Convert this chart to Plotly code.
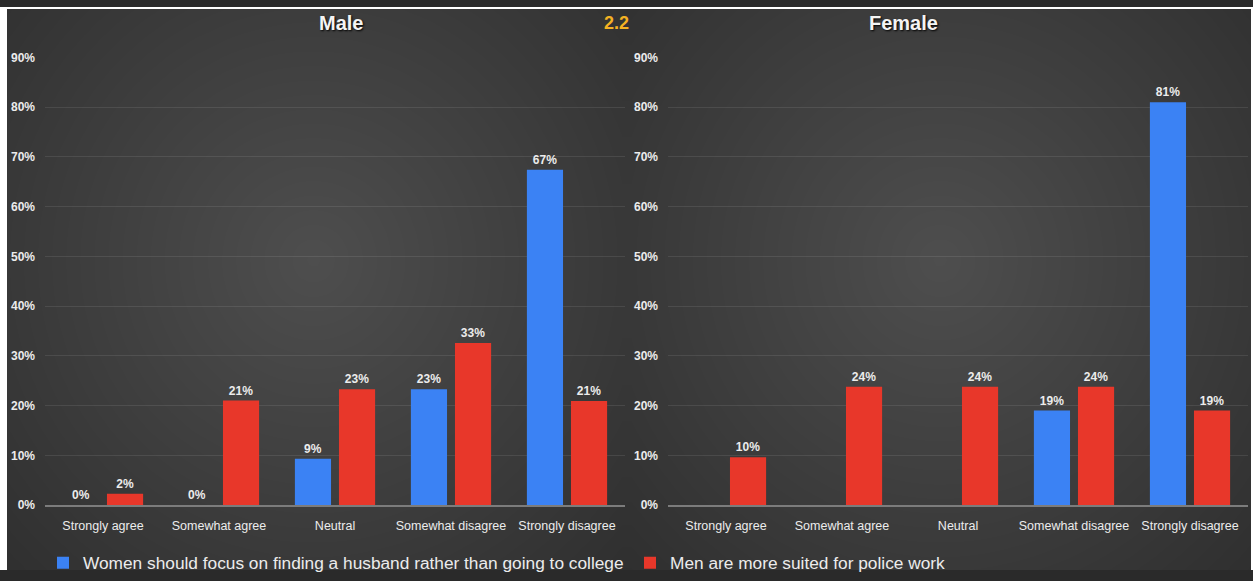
import numpy as np
import plotly.graph_objects as go

W, H = 1253, 581

categories = ["Strongly agree", "Somewhat agree", "Neutral", "Somewhat disagree", "Strongly disagree"]
series_names = ["Women should focus on finding a husband rather than going to college",
                "Men are more suited for police work"]
male_women_college = [0, 0, 9.3, 23.3, 67.4]
male_men_police = [2.3, 21.0, 23.3, 32.6, 20.9]
female_women_college = [None, None, None, 19.0, 81.0]
female_men_police = [9.6, 23.8, 23.8, 23.8, 19.0]
y_tickvals = [0, 10, 20, 30, 40, 50, 60, 70, 80, 90]
y_ticktext = ["0%", "10%", "20%", "30%", "40%", "50%", "60%", "70%", "80%", "90%"]
panel_titles = ["Male", "Female"]
corner_label = "2.2"

BLUE = "#3b82f4"
RED = "#e8372a"
FONT = "Liberation Sans, Arial, sans-serif"
TXT = "#ececec"
EDGE = "#2a2a2a"

def px_x(p):
    return p / W

def px_y(p):
    return 1 - p / H

fig = go.Figure()

# background: two radial gradients (styling only)
nx, ny = 160, 70
gx = np.linspace(-0.01, 1.01, nx)
gy = np.linspace(-0.02, 1.02, ny)
X, Y = np.meshgrid(gx, gy)
zl = np.sqrt(((X - 0.25) / 0.33) ** 2 + ((Y - 0.55) / 0.75) ** 2)
zr = np.sqrt(((X - 0.75) / 0.33) ** 2 + ((Y - 0.55) / 0.75) ** 2)
Z = np.where(X < 0.5, zl, zr)
Z = np.clip(Z, 0, 1.3)
fig.add_trace(go.Heatmap(x=gx, y=gy, z=Z, zsmooth="best", showscale=False,
                         colorscale=[[0, "#4e4e4e"], [0.5, "#3b3b3b"], [1, "#282828"]],
                         zmin=0, zmax=1.3, hoverinfo="skip", xaxis="x", yaxis="y"))

def add_panel(blue_vals, red_vals, xa, ya, show):
    fig.add_trace(go.Bar(x=categories, y=blue_vals, name=series_names[0], marker_color=BLUE,
                         marker_line_width=0, texttemplate="%{y:.0f}%", textposition="outside",
                         textfont=dict(family=FONT, size=12, color=TXT, weight="bold"),
                         cliponaxis=False, xaxis=xa, yaxis=ya, showlegend=show,
                         legendgroup="a"))
    fig.add_trace(go.Bar(x=categories, y=red_vals, name=series_names[1], marker_color=RED,
                         marker_line_width=0, texttemplate="%{y:.0f}%", textposition="outside",
                         textfont=dict(family=FONT, size=12, color=TXT, weight="bold"),
                         cliponaxis=False, xaxis=xa, yaxis=ya, showlegend=show,
                         legendgroup="b"))

add_panel(male_women_college, male_men_police, "x2", "y2", True)
add_panel(female_women_college, female_men_police, "x3", "y3", False)

ydom = [px_y(514), px_y(52)]
xaxis_common = dict(showgrid=False, showline=True, linecolor="#7c7c7c", linewidth=2,
                    ticks="", tickangle=0, ticklabelstandoff=8,
                    tickfont=dict(family=FONT, size=12.5, color=TXT),
                    fixedrange=True)
yaxis_common = dict(range=[0, 90], tickmode="array", tickvals=y_tickvals, ticktext=y_ticktext,
                    showgrid=True, gridcolor="rgba(255,255,255,0.09)", gridwidth=1, zeroline=False,
                    showline=False, ticks="", ticklabelstandoff=9,
                    tickfont=dict(family=FONT, size=12, color=TXT, weight="bold"), fixedrange=True)

fig.update_layout(
    width=W, height=H, autosize=False,
    margin=dict(l=0, r=0, t=0, b=0),
    paper_bgcolor=EDGE,
    plot_bgcolor="rgba(0,0,0,0)",
    barmode="group", bargap=0.24, bargroupgap=0.18,
    xaxis=dict(domain=[0, 1], range=[0, 1], visible=False, fixedrange=True),
    yaxis=dict(domain=[0, 1], range=[0, 1], visible=False, fixedrange=True),
    xaxis2=dict(domain=[px_x(45), px_x(625)], anchor="y2", **xaxis_common),
    yaxis2=dict(domain=ydom, anchor="x2", **yaxis_common),
    xaxis3=dict(domain=[px_x(668), px_x(1248)], anchor="y3", **xaxis_common),
    yaxis3=dict(domain=ydom, anchor="x3", **yaxis_common),
    legend=dict(orientation="h", x=px_x(43), xanchor="left", y=px_y(574), yanchor="middle",
                font=dict(family=FONT, size=17.3, color=TXT), bgcolor="rgba(0,0,0,0)",
                entrywidth=542, entrywidthmode="pixels",
                itemclick=False, itemdoubleclick=False, tracegroupgap=0),
    showlegend=True,
    shapes=[
        dict(type="rect", xref="paper", yref="paper", x0=0, x1=1, y0=px_y(2), y1=1,
             fillcolor="white", line_width=0, layer="above"),
        dict(type="rect", xref="paper", yref="paper", x0=0, x1=px_x(7), y0=0, y1=1,
             fillcolor="white", line_width=0, layer="above"),
        dict(type="rect", xref="paper", yref="paper", x0=px_x(1251), x1=1, y0=0, y1=1,
             fillcolor="white", line_width=0, layer="above"),
    ],
)

title_font = dict(family=FONT, size=20, color="#f4f4f4", weight="bold", shadow="1px 1px 2px #000")
fig.add_annotation(text=panel_titles[0], x=px_x(317), y=px_y(16), xref="paper", yref="paper",
                   yanchor="middle", showarrow=False, font=title_font)
fig.add_annotation(text=panel_titles[1], x=px_x(940), y=px_y(16), xref="paper", yref="paper",
                   yanchor="middle", showarrow=False, font=title_font)
fig.add_annotation(text=corner_label, x=px_x(616), y=px_y(16), xref="paper", yref="paper",
                   yanchor="middle", showarrow=False,
                   font=dict(family=FONT, size=18, color="#f4b223", weight="bold"))

page_css = ("var bg='linear-gradient(to bottom, #ffffff 0%, #ffffff 50%, #2a2a2a 50%, #2a2a2a 100%)';"
            "document.documentElement.style.background=bg;document.body.style.background=bg;"
            "document.body.style.margin='0';document.body.style.overflow='hidden';")
fig.write_html("out.html", config={"responsive": False, "displayModeBar": False},
               post_script=page_css)
